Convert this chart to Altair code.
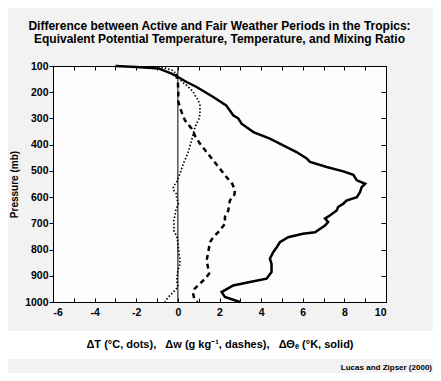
import altair as alt
import pandas as pd

# Equivalent potential temperature difference (K, solid)
theta_p = [100, 104, 110, 129, 142, 161, 180, 218, 250, 288, 300, 320, 352, 377, 403, 428, 453, 466, 485,
           502, 515, 536, 549, 562, 581, 600, 613, 625, 638, 651, 670, 682, 695, 708, 734, 740, 753, 772,
           791, 810, 835, 854, 886, 911, 924, 937, 962, 981, 1000]
theta_v = [-3.0, -2.0, -0.9, -0.3, 0.0, 0.42, 0.9, 1.7, 2.32, 2.66, 2.9, 3.06, 3.63, 4.42, 5.06, 5.7, 6.19, 6.35, 7.15,
           7.95, 8.43, 8.6, 9.0, 8.83, 8.75, 8.6, 8.1, 7.95, 7.7, 7.63, 7.3, 7.07, 7.22, 7.07, 6.59, 6.0, 5.3, 4.9,
           4.75, 4.58, 4.42, 4.5, 4.5, 4.26, 3.46, 2.66, 2.1, 2.26, 2.98]

# Mixing ratio difference (g/kg, dashes)
w_p = [130, 160, 199, 237, 276, 307, 339, 370, 396, 428, 460, 492, 524, 550, 575, 590, 613, 651, 676, 702,
       727, 753, 772, 810, 842, 873, 892, 912, 930, 950, 965, 990, 1000]
w_v = [-0.1, 0.0, 0.02, 0.02, 0.18, 0.34, 0.66, 0.85, 1.06, 1.38, 1.7, 2.02, 2.34, 2.62, 2.74, 2.72, 2.5, 2.42, 2.26, 2.26,
       2.02, 1.7, 1.54, 1.46, 1.38, 1.46, 1.5, 1.3, 1.06, 0.8, 0.72, 0.8, 0.95]

# Temperature difference (C, dots)
t_p = [103, 108, 118, 140, 160, 174, 199, 212, 231, 250, 282, 300, 333, 384, 428, 473, 511, 543, 560, 572,
       587, 606, 625, 651, 670, 689, 710, 727, 750, 775, 810, 842, 860, 880, 918, 943, 962, 981, 1000]
t_v = [-1.3, -0.6, -0.2, 0.0, 0.2, 0.42, 0.74, 0.82, 0.98, 1.06, 1.06, 1.02, 0.82, 0.66, 0.5, 0.26, 0.1, -0.06, -0.22, -0.22,
       -0.08, -0.05, 0.02, -0.1, -0.14, -0.2, -0.18, -0.2, -0.05, 0.0, 0.05, 0.1, 0.08, 0.0, -0.06, 0.0, -0.22, -0.46, -0.62]

x_ticks = list(range(-6, 11))
p_ticks = list(range(100, 1001, 100))

title_lines = ["Difference between Active and Fair Weather Periods in the Tropics:",
               "Equivalent Potential Temperature, Temperature, and Mixing Ratio"]
x_title = "\u0394T (\u00b0C, dots),\u00a0\u00a0 \u0394w (g kg\u207b\u00b9, dashes),\u00a0\u00a0 \u0394\u0398\u2091 (\u00b0K, solid)"
y_title = "Pressure (mb)"
citation = "Lucas and Zipser (2000)"

FONT = "Liberation Sans"

df_theta = pd.DataFrame({"p": theta_p, "v": theta_v})
df_w = pd.DataFrame({"p": w_p, "v": w_v})
df_t = pd.DataFrame({"p": t_p, "v": t_v})
df_zero = pd.DataFrame({"v": [0], "p1": [100], "p2": [1000]})

xs = alt.Scale(domain=[-6, 10], nice=False, zero=False)
ys = alt.Scale(domain=[100, 1000], reverse=True, nice=False, zero=False)

band = alt.Chart(pd.DataFrame({"a": [0]})).mark_rect(color="white").encode(
    x=alt.value(-45), x2=alt.value(380), y=alt.value(265), y2=alt.value(293))

xtitle = alt.Chart(pd.DataFrame({"t": [x_title]})).mark_text(
    align="center", baseline="middle", font=FONT, fontWeight="bold", fontSize=11, color="black"
).encode(x=alt.value(167), y=alt.value(279), text="t:N")

cite = alt.Chart(pd.DataFrame({"t": [citation]})).mark_text(
    align="right", baseline="middle", font=FONT, fontWeight="bold", fontSize=8, color="black"
).encode(x=alt.value(379), y=alt.value(302), text="t:N")

bottom_axis = alt.Axis(values=x_ticks, labelExpr="datum.value % 2 == 0 ? '' + datum.value : ''",
                       orient="bottom", offset=-4, tickSize=4, domain=False, grid=False,
                       labelPadding=5, labelFont=FONT, labelFontSize=10.5, labelFontWeight="bold",
                       labelColor="black", tickColor="black", title=None)
left_axis = alt.Axis(values=p_ticks, format="d", orient="left", tickSize=4, domain=False, grid=False,
                     labelPadding=1, labelFont=FONT, labelFontSize=10.5, labelFontWeight="bold",
                     labelColor="black", tickColor="black", title=y_title, titleFont=FONT,
                     titleFontSize=10, titleFontWeight="bold", titleColor="black", titlePadding=5)
top_axis = alt.Axis(values=x_ticks, orient="top", offset=-4, tickSize=4, domain=False, grid=False,
                    labels=False, title=None, tickColor="black")
right_axis = alt.Axis(values=p_ticks, orient="right", offset=-5, tickSize=5, domain=False, grid=False,
                      labels=False, title=None, tickColor="black")

solid = alt.Chart(df_theta).mark_line(color="black", strokeWidth=2.5).encode(
    x=alt.X("v:Q", scale=xs, axis=bottom_axis),
    y=alt.Y("p:Q", scale=ys, axis=left_axis),
    order="p:Q")

dashed = alt.Chart(df_w).mark_line(color="black", strokeWidth=2.5, strokeDash=[5, 4]).encode(
    x=alt.X("v:Q", scale=xs, axis=None),
    y=alt.Y("p:Q", scale=ys, axis=None),
    order="p:Q")

dotted = alt.Chart(df_t).mark_line(color="black", strokeWidth=1.7, strokeDash=[1.5, 2]).encode(
    x=alt.X("v:Q", scale=xs, axis=None),
    y=alt.Y("p:Q", scale=ys, axis=None),
    order="p:Q")

zero = alt.Chart(df_zero).mark_rule(color="black", strokeWidth=1).encode(
    x=alt.X("v:Q", scale=xs, axis=top_axis),
    y=alt.Y("p1:Q", scale=ys, axis=right_axis),
    y2="p2:Q")

chart = alt.layer(band, zero, dotted, dashed, solid, xtitle, cite).resolve_axis(
    x="independent", y="independent"
).properties(
    width=333, height=236,
    autosize="none",
    padding={"left": 45, "top": 58, "right": 47, "bottom": 71},
    background="#f2f2f2",
    title=alt.TitleParams(title_lines, font=FONT, fontSize=12, fontWeight="bold", color="black",
                          anchor="middle", offset=15, lineHeight=13),
).configure_view(stroke="black", strokeWidth=1, fill="#fdfdfd")

chart.save("out.html", embed_options={"renderer": "svg", "actions": False})
